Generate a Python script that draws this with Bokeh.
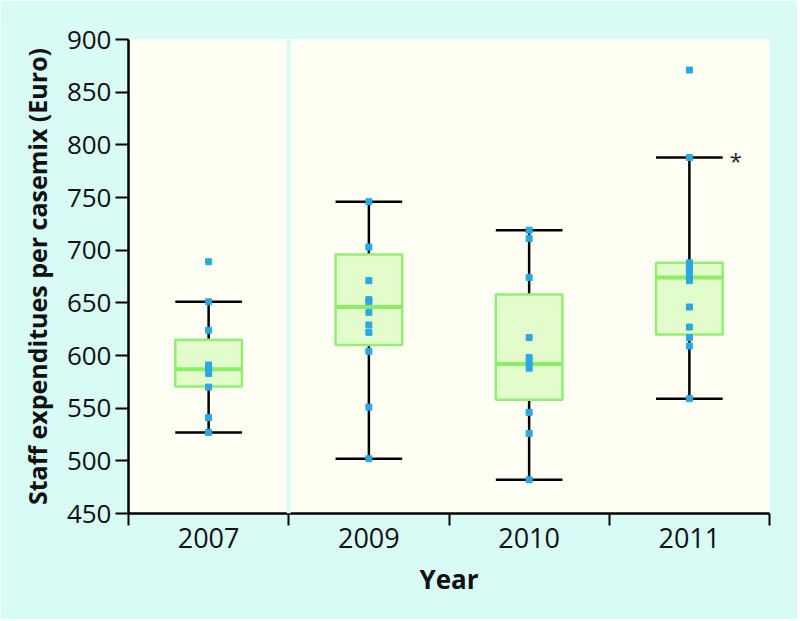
from bokeh.plotting import figure
from bokeh.models import Range1d, FixedTicker, Span, ColumnDataSource
from bokeh.core.properties import value
from bokeh.embed import file_html
from bokeh.resources import INLINE

# ---- data ----
years = ["2007", "2009", "2010", "2011"]
lower_whisker = [527, 502, 482, 559]
q1 = [570.5, 610, 558, 620]
median = [587, 646, 592, 674]
q3 = [615, 696, 658, 688]
upper_whisker = [651, 746, 719, 788]

points_2007 = [689, 651, 624, 591, 587, 583, 570, 541, 527]
points_2009 = [746, 703, 671, 653, 651, 641, 629, 622, 604, 551, 502]
points_2010 = [719, 711, 674, 617, 598, 593, 588, 546, 526, 482]
points_2011 = [871, 788, 688, 684, 679, 674, 671, 646, 627, 617, 609, 559]
all_points = [points_2007, points_2009, points_2010, points_2011]

y_ticks = [450, 500, 550, 600, 650, 700, 750, 800, 850, 900]
starred_year = "2011"

# ---- styling ----
BG = "#d8fbf5"
PLOT_BG = "#fffff4"
BOX_FILL = "#e2fccb"
BOX_LINE = "#92ef74"
MEDIAN = "#8cee66"
POINT = "#29a9e3"
FONT = "Open Sans"
BOX_W = 0.416

centers = [i + 0.5 for i in range(len(years))]

p = figure(width=797, height=619, output_backend="svg", toolbar_location=None,
           x_range=Range1d(0, len(years)), y_range=Range1d(y_ticks[0], y_ticks[-1]),
           min_border_left=128, min_border_right=28, min_border_top=39,
           min_border_bottom=106)
p.background_fill_color = PLOT_BG
p.border_fill_color = BG
p.outline_line_color = None
p.grid.visible = False

# separator between 2007 and the later years
p.add_layout(Span(location=1, dimension="height", line_color=BG, line_width=4))

# whiskers
src = ColumnDataSource(dict(
    x=centers, lw=lower_whisker, q1=q1, med=median, q3=q3, uw=upper_whisker,
    left=[c - BOX_W / 2 for c in centers], right=[c + BOX_W / 2 for c in centers]))
p.segment(x0="x", y0="uw", x1="x", y1="q3", source=src, line_color="black", line_width=2.5)
p.segment(x0="x", y0="q1", x1="x", y1="lw", source=src, line_color="black", line_width=2.5)
p.segment(x0="left", y0="uw", x1="right", y1="uw", source=src, line_color="black", line_width=2.5)
p.segment(x0="left", y0="lw", x1="right", y1="lw", source=src, line_color="black", line_width=2.5)

# boxes
p.quad(left="left", right="right", bottom="q1", top="q3", source=src,
       fill_color=BOX_FILL, line_color=BOX_LINE, line_width=2.5)
p.segment(x0="left", y0="med", x1="right", y1="med", source=src,
          line_color=MEDIAN, line_width=4)

# points
px, py = [], []
for c, pts in zip(centers, all_points):
    px += [c] * len(pts)
    py += pts
p.scatter(px, py, marker="square", size=6, fill_color=POINT, line_color=POINT)

# asterisk next to the 2011 upper whisker
si = years.index(starred_year)
p.text(x=[centers[si] + BOX_W / 2], y=[upper_whisker[si]], text=["*"],
       x_offset=7, y_offset=3, text_font=value(FONT), text_font_size="22px",
       text_baseline="middle", text_align="left", text_color="#222222")

# y axis
ya = p.yaxis[0]
ya.ticker = FixedTicker(ticks=y_ticks)
ya.axis_label = "Staff expenditues per casemix (Euro)"
ya.axis_label_text_font = FONT
ya.axis_label_text_font_style = "bold"
ya.axis_label_text_font_size = "25px"
ya.axis_label_text_color = "#111111"
ya.axis_label_standoff = 10
ya.major_label_text_font = FONT
ya.major_label_text_font_size = "26px"
ya.major_label_text_color = "#111111"
ya.major_label_standoff = 4
ya.major_tick_out = 13
ya.major_tick_in = 0
ya.major_tick_line_width = 2
ya.minor_tick_line_color = None
ya.axis_line_width = 2.5
ya.axis_line_color = "black"

# x axis
xa = p.xaxis[0]
xa.ticker = FixedTicker(ticks=centers, minor_ticks=list(range(len(years) + 1)))
xa.major_label_overrides = {c: y for c, y in zip(centers, years)}
xa.axis_label = "Year"
xa.axis_label_text_font = FONT
xa.axis_label_text_font_style = "bold"
xa.axis_label_text_font_size = "26px"
xa.axis_label_text_color = "#111111"
xa.axis_label_standoff = 10
xa.major_label_text_font = FONT
xa.major_label_text_font_size = "27px"
xa.major_label_text_color = "#111111"
xa.major_label_standoff = 2
xa.major_tick_line_color = None
xa.major_tick_out = 0
xa.major_tick_in = 0
xa.minor_tick_out = 12
xa.minor_tick_in = 0
xa.minor_tick_line_width = 2
xa.minor_tick_line_color = "black"
xa.axis_line_width = 2.5
xa.axis_line_color = "black"

open("out.html", "w").write(file_html(p, INLINE))
